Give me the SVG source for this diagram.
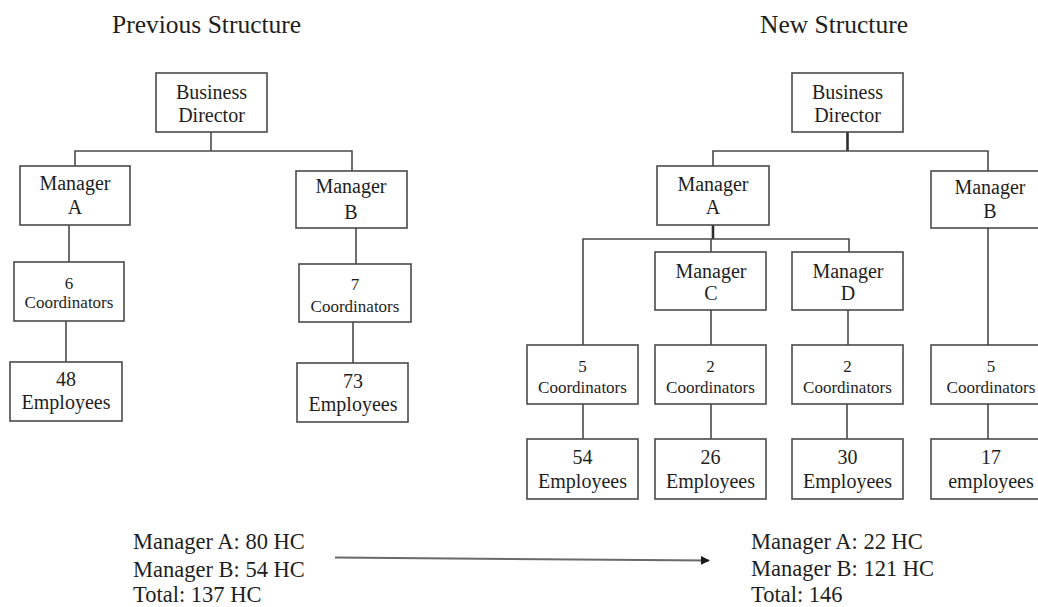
<svg xmlns="http://www.w3.org/2000/svg" width="1038" height="607" viewBox="0 0 1038 607">
  <defs>
    <style>
      .box { fill: #ffffff; stroke: #4a4a4a; stroke-width: 1.6; }
      .link { fill: none; stroke: #4a4a4a; stroke-width: 1.6; }
      .stem { fill: none; stroke: #2e2e2e; stroke-width: 2.6; }
      text { font-family: "Liberation Serif", "Times New Roman", serif; fill: #1e1e1e; }
      .t { text-anchor: middle; font-size: 20px; }
      .c { text-anchor: middle; font-size: 17px; }
      .title { font-size: 25.5px; }
      .sum { font-size: 22.5px; }
    </style>
    <marker id="arrowhead" viewBox="0 0 10 10" refX="9" refY="5" markerWidth="9" markerHeight="9" markerUnits="userSpaceOnUse" orient="auto">
      <path d="M0,0 L10,5 L0,10 z" fill="#1a1a1a"/>
    </marker>
  </defs>
  <rect width="1038" height="607" fill="#ffffff"/>

  <!-- Titles -->
  <text class="title" x="112" y="33">Previous Structure</text>
  <text class="title" x="760" y="33">New Structure</text>

  <!-- Connectors -->
  <g id="connectors">
    <!-- previous structure -->
    <path class="link" d="M211,132 V151 M75,166 V151 H352 V171"/>
    <path class="link" d="M69,225 V262"/>
    <path class="link" d="M66,321 V362"/>
    <path class="link" d="M356,228 V264"/>
    <path class="link" d="M353,322 V363"/>
    <!-- new structure -->
    <path class="stem" d="M847.5,132 V151"/>
    <path class="link" d="M713,166 V151 H988 V171"/>
    <path class="stem" d="M713,225 V239"/>
    <path class="link" d="M583,345 V239 H849 V252"/>
    <path class="link" d="M711,239 V252"/>
    <path class="link" d="M711,310 V345"/>
    <path class="link" d="M848,310 V345"/>
    <path class="link" d="M988,228 V345"/>
    <path class="link" d="M583,404 V439"/>
    <path class="link" d="M711,404 V439"/>
    <path class="link" d="M847,404 V439"/>
    <path class="link" d="M988,404 V439"/>
    <!-- headcount change -->
    <path d="M335,557.5 L709,560.5" fill="none" stroke="#6a6a6a" stroke-width="2" marker-end="url(#arrowhead)"/>
  </g>

  <!-- Previous structure nodes -->
  <g id="prev-director">
    <rect class="box" x="156" y="73" width="111" height="59"/>
    <text class="t" x="211.5" y="99">Business</text>
    <text class="t" x="211.5" y="122">Director</text>
  </g>
  <g id="prev-manager-a">
    <rect class="box" x="20" y="166" width="110" height="59"/>
    <text class="t" x="75" y="190">Manager</text>
    <text class="t" x="75" y="214">A</text>
  </g>
  <g id="prev-manager-b">
    <rect class="box" x="296" y="171" width="111" height="57"/>
    <text class="t" x="351" y="193">Manager</text>
    <text class="t" x="351" y="219">B</text>
  </g>
  <g id="prev-coord-a">
    <rect class="box" x="14" y="262" width="110" height="59"/>
    <text class="c" x="69" y="289">6</text>
    <text class="c" x="69" y="308">Coordinators</text>
  </g>
  <g id="prev-coord-b">
    <rect class="box" x="299" y="264" width="112" height="58"/>
    <text class="c" x="355" y="290">7</text>
    <text class="c" x="355" y="311.5">Coordinators</text>
  </g>
  <g id="prev-emp-a">
    <rect class="box" x="10" y="362" width="112" height="59"/>
    <text class="t" x="66" y="386">48</text>
    <text class="t" x="66" y="409">Employees</text>
  </g>
  <g id="prev-emp-b">
    <rect class="box" x="297" y="363" width="111" height="59"/>
    <text class="t" x="353" y="388">73</text>
    <text class="t" x="353" y="411">Employees</text>
  </g>

  <!-- New structure nodes -->
  <g id="new-director">
    <rect class="box" x="792" y="73" width="111" height="59"/>
    <text class="t" x="847.5" y="99">Business</text>
    <text class="t" x="847.5" y="122">Director</text>
  </g>
  <g id="new-manager-a">
    <rect class="box" x="657" y="166" width="112" height="59"/>
    <text class="t" x="713" y="190.5">Manager</text>
    <text class="t" x="713" y="214">A</text>
  </g>
  <g id="new-manager-b">
    <rect class="box" x="931" y="171" width="118" height="57"/>
    <text class="t" x="990" y="194">Manager</text>
    <text class="t" x="990" y="218">B</text>
  </g>
  <g id="new-manager-c">
    <rect class="box" x="655" y="252" width="111" height="58"/>
    <text class="t" x="711" y="278">Manager</text>
    <text class="t" x="711" y="300">C</text>
  </g>
  <g id="new-manager-d">
    <rect class="box" x="792" y="252" width="111" height="58"/>
    <text class="t" x="848" y="278">Manager</text>
    <text class="t" x="848" y="300">D</text>
  </g>
  <g id="new-coord-a">
    <rect class="box" x="527" y="345" width="111" height="59"/>
    <text class="c" x="582.5" y="371.5">5</text>
    <text class="c" x="582.5" y="392.5">Coordinators</text>
  </g>
  <g id="new-coord-c">
    <rect class="box" x="655" y="345" width="111" height="59"/>
    <text class="c" x="710.5" y="371.5">2</text>
    <text class="c" x="710.5" y="392.5">Coordinators</text>
  </g>
  <g id="new-coord-d">
    <rect class="box" x="792" y="345" width="111" height="59"/>
    <text class="c" x="847.5" y="371.5">2</text>
    <text class="c" x="847.5" y="392.5">Coordinators</text>
  </g>
  <g id="new-coord-b">
    <rect class="box" x="931" y="345" width="118" height="59"/>
    <text class="c" x="991" y="371.5">5</text>
    <text class="c" x="991" y="392.5">Coordinators</text>
  </g>
  <g id="new-emp-a">
    <rect class="box" x="527" y="439" width="111" height="60"/>
    <text class="t" x="582.5" y="463.5">54</text>
    <text class="t" x="582.5" y="488">Employees</text>
  </g>
  <g id="new-emp-c">
    <rect class="box" x="655" y="439" width="111" height="60"/>
    <text class="t" x="710.5" y="463.5">26</text>
    <text class="t" x="710.5" y="488">Employees</text>
  </g>
  <g id="new-emp-d">
    <rect class="box" x="792" y="439" width="111" height="60"/>
    <text class="t" x="847.5" y="463.5">30</text>
    <text class="t" x="847.5" y="488">Employees</text>
  </g>
  <g id="new-emp-b">
    <rect class="box" x="931" y="439" width="118" height="60"/>
    <text class="t" x="991" y="463.5">17</text>
    <text class="t" x="991" y="488">employees</text>
  </g>

  <!-- Headcount summaries -->
  <g id="summary-previous">
    <text class="sum" x="133" y="549">Manager A: 80 HC</text>
    <text class="sum" x="133" y="577">Manager B: 54 HC</text>
    <text class="sum" x="133" y="602">Total: 137 HC</text>
  </g>
  <g id="summary-new">
    <text class="sum" x="751" y="549">Manager A: 22 HC</text>
    <text class="sum" x="751" y="576">Manager B: 121 HC</text>
    <text class="sum" x="751" y="602">Total: 146</text>
  </g>
</svg>
